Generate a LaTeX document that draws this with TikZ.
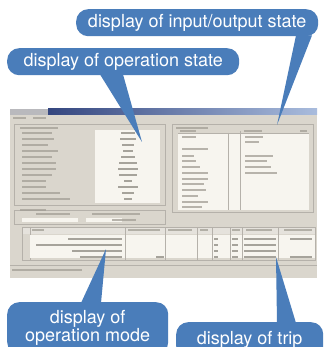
\documentclass[tikz,border=0pt]{standalone}
\usepackage{fontspec}
\setmainfont{TeX Gyre Heros}
\usetikzlibrary{calc}
\definecolor{callblue}{HTML}{4A7DBA}
\definecolor{winbg}{HTML}{DAD6CD}
\definecolor{pane}{HTML}{F7F5EF}
\definecolor{faux}{HTML}{A29E95}
\definecolor{fauxdark}{HTML}{8C887F}
\definecolor{titleA}{HTML}{34467F}
\definecolor{titleB}{HTML}{A9BCDD}
\tikzset{
  callout/.style={fill=callblue, text=white, rounded corners=12pt, inner sep=0pt,
    font=\fontsize{18}{19}\selectfont, align=center},
  tail/.style={fill=callblue},
  txt/.style={draw=faux, line width=1.6pt, opacity=.75},
  txtd/.style={draw=fauxdark, line width=1.6pt, opacity=.75},
  rule/.style={draw=faux!80, line width=.6pt},
}
\begin{document}
\begin{tikzpicture}[x=1pt, y=-1pt]
\clip (0,0) rectangle (323,347);
\fill[white] (0,0) rectangle (323,347);

% --- application window -------------------------------------------------
\fill[winbg] (10,109) rectangle (317,278);
\shade[left color=titleA, right color=titleB] (48,109) rectangle (317,115);
\fill[winbg!80!titleA] (10,109) rectangle (48,115);
\draw[txt, line width=1.2pt] (13,118) -- (26,118) (33,118) -- (46,118);

% left panel: operation state
\draw[rule] (14,124) rectangle (165,205);
\draw[txt] (20,128) -- (58,128);
\fill[pane] (95,130) rectangle (160,203);
\foreach \y/\l/\v in {133/30/14, 139/32/16, 145/26/12, 151/36/10, 157/30/14, 163/34/18,
    169/34/20, 175/30/18, 181/24/8, 187/24/20, 193/38/12, 199/48/8}{
  \draw[txt] (22,\y) -- ++(\l,0);
  \draw[txtd] (128-\v/2,\y) -- ++(\v,0);
}

% right panel: input/output state
\draw[rule] (172,124) rectangle (313,212);
\draw[txt] (176,128) -- (208,128);
\fill[pane] (178,133) rectangle (309,210);
\draw[rule] (178,133) -- (309,133) (240,131) -- (240,210) (228,133) -- (228,210);
\draw[txt, line width=1.2pt] (180,131) -- (196,131) (244,131) -- (262,131) (300,131) -- (307,131);
\foreach \y/\l in {137/14, 149/26, 156/12, 161/14, 167/18, 173/26, 179/26, 184/22, 190/24,
    196/16, 202/26, 207/20}{
  \draw[txt] (182,\y) -- ++(\l,0);
}
\foreach \y/\l in {137/18, 142/14, 156/28, 161/22, 167/26, 173/32}{
  \draw[txt] (245,\y) -- ++(\l,0);
}

% selection group below the left panel
\draw[rule] (14,210) rectangle (165,224);
\draw[txt, line width=1.2pt] (20,210) -- (46,210);
\draw[txt, line width=1.2pt] (36,214) -- (70,214) (92,214) -- (140,214);
\fill[pane] (22,218) rectangle (78,222);
\fill[pane] (86,218) rectangle (122,222);
\draw[txt, line width=1.2pt] (112,220) -- (136,220);

% bottom table: operation mode and trip
\fill[winbg!70!white] (22,227) rectangle (315,234);
\foreach \x in {30,125,165,197,212,230,242,278}{
  \draw[rule] (\x,227) -- (\x,260);
}
\draw[txt, line width=1.2pt] (32,230) -- (44,230) (128,230) -- (160,230) (168,230) -- (192,230)
  (200,230) -- (208,230) (232,230) -- (240,230) (246,230) -- (272,230) (284,230) -- (312,230);
\fill[pane] (30,235) rectangle (315,258);
\foreach \x in {125,165,197,212,230,242,278}{
  \draw[rule] (\x,235) -- (\x,258);
}
\draw[rule] (22,227) rectangle (315,260);
\foreach \y/\a/\b in {239/68/122, 245/36/122, 251/72/122, 257/80/122}{
  \draw[txtd, line width=1.2pt] (\a,\y) -- (\b,\y);
  \draw[txtd, line width=1.2pt] (244,\y) -- (276,\y);
  \draw[txtd, line width=1.2pt] (214,\y) -- (218,\y) (232,\y) -- (238,\y);
}
\draw[txtd, line width=1.2pt] (290,239) -- (312,239) (290,257) -- (312,257) (156,257) -- (164,257);

% status bar
\draw[rule] (10,265) -- (317,265);
\draw[txt, line width=1.2pt] (12,270) -- (82,270);

% --- callouts ------------------------------------------------------------
\node[callout, minimum width=242pt, minimum height=27pt, anchor=north west]
  (io) at (76,9) {display of input/output state};
\node[callout, minimum width=232pt, minimum height=27pt, anchor=north west]
  (op) at (7,48) {display of operation state};
\node[callout, minimum width=161pt, minimum height=52pt, anchor=north west]
  (mode) at (7,302) {\raisebox{-4pt}{\parbox{150pt}{\centering display of\\[-1pt] operation mode}}};
\node[callout, minimum width=147pt, minimum height=36pt, anchor=north west]
  (trip) at (176,322) {\raisebox{-2pt}{display of trip}};

\coordinate (ioTip) at (277,125);
\coordinate (opTip) at (142,142);
\coordinate (modeTip) at (106,249);
\coordinate (tripTip) at (276,257);

\fill[tail] ($(io.south west)+(220,-1)$) -- (ioTip) -- ($(io.south west)+(236,-1)$) -- cycle;
\fill[tail] ($(op.south west)+(93,-1)$) -- (opTip) -- ($(op.south west)+(116,-1)$) -- cycle;
\fill[tail] ($(mode.north west)+(74,1)$) -- (modeTip) -- ($(mode.north west)+(94,1)$) -- cycle;
\fill[tail] ($(trip.north west)+(101,1)$) -- (tripTip) -- ($(trip.north west)+(120,1)$) -- cycle;
\end{tikzpicture}
\end{document}
